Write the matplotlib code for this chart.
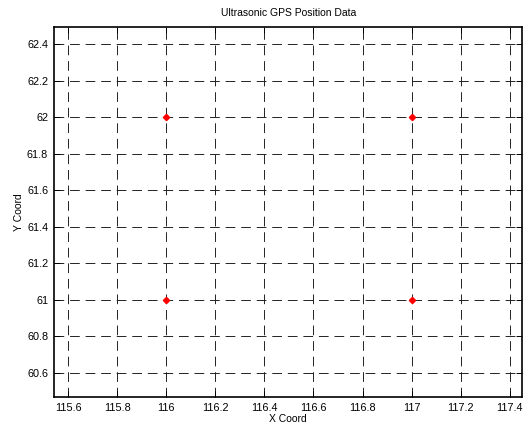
import matplotlib
matplotlib.use("Agg")
import matplotlib.pyplot as plt

x_vals = [116, 117, 116, 117]
y_vals = [62, 62, 61, 61]
x_ticks = [115.6, 115.8, 116, 116.2, 116.4, 116.6, 116.8, 117, 117.2, 117.4]
y_ticks = [60.6, 60.8, 61, 61.2, 61.4, 61.6, 61.8, 62, 62.2, 62.4]

plt.rcParams['font.family'] = ['Liberation Sans', 'DejaVu Sans']
fig = plt.figure(figsize=(5.29, 4.23), dpi=100)
ax = fig.add_axes([0.103, 0.062, 0.884, 0.874])
ax.plot(x_vals, y_vals, linestyle='none', marker='D', markersize=3.2,
        color='red', zorder=3)
ax.set_xlim(115.545, 117.45)
ax.set_ylim(60.47, 62.493)
ax.set_xticks(x_ticks)
ax.set_xticklabels([f"{v:g}" for v in x_ticks])
ax.set_yticks(y_ticks)
ax.set_yticklabels([f"{v:g}" for v in y_ticks])
ax.grid(True, color='#222222', linestyle=(0, (10, 6)), linewidth=0.7)
ax.tick_params(direction='in', length=4, width=0.7, top=True, right=True,
               labelsize=7.8, pad=4.5)
for s in ax.spines.values():
    s.set_linewidth(1.2)
ax.set_title('Ultrasonic GPS Position Data', fontsize=7.5, pad=8)
ax.set_xlabel('X Coord', fontsize=7.5, labelpad=0.5)
ax.set_ylabel('Y Coord', fontsize=7.5, labelpad=2)
fig.savefig('out.png', dpi=100)
